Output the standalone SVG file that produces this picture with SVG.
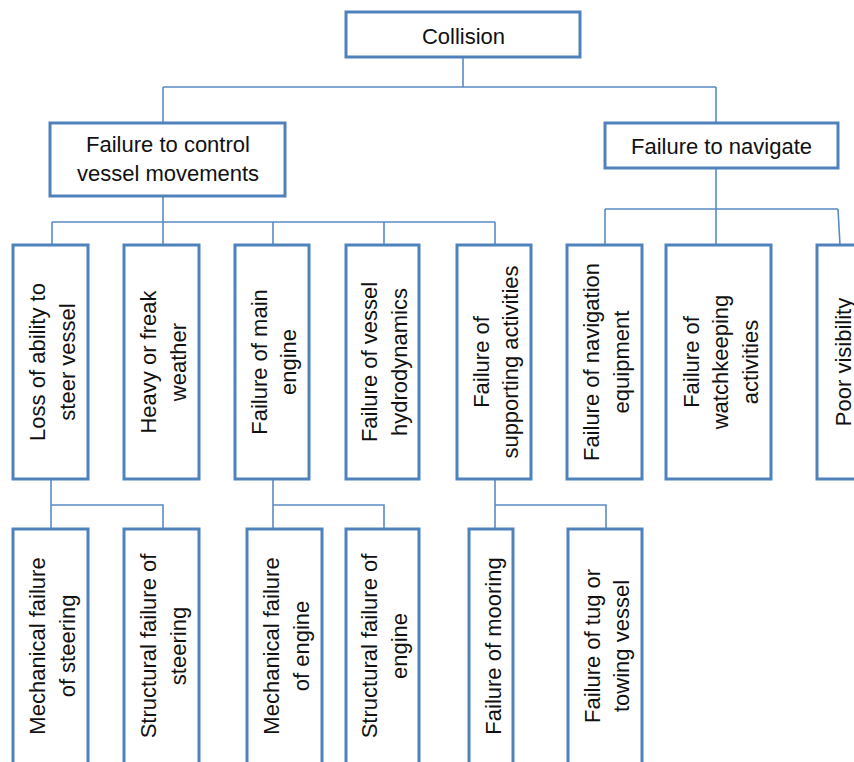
<svg xmlns="http://www.w3.org/2000/svg" width="854" height="762" viewBox="0 0 854 762">
  <style>
    .box { fill: #ffffff; stroke: #4f81bd; stroke-width: 3; }
    .link { fill: none; stroke: #5a8ac6; stroke-width: 1.6; }
    .lbl { font-family: "Liberation Sans", Arial, sans-serif; font-size: 22px; fill: #111111; text-anchor: middle; }
  </style>
  <rect width="854" height="762" fill="#ffffff"/>

  <!-- connectors -->
  <g id="connectors" class="link">
    <path d="M463 57 V87 M163 87 H716 M163 87 V123 M716 87 V123"/>
    <path d="M163 196 V222 M52 222 H495 M52 222 V245 M163 222 V245 M273 222 V245 M384 222 V245 M495 222 V245"/>
    <path d="M716 168 V209 M605 209 H838 M605 209 V245 M716 209 V245 M838 209 L840 245"/>
    <path d="M51 479 V529 M51 505 H163 V529"/>
    <path d="M273 479 V529 M273 505 H384 V529"/>
    <path d="M495 479 V529 M495 505 H606 V529"/>
  </g>

  <!-- top level -->
  <g id="collision">
    <rect class="box" x="346" y="12" width="234" height="45"/>
    <text class="lbl" x="463.5" y="43.5">Collision</text>
  </g>
  <g id="failure-control">
    <rect class="box" x="50" y="123" width="235" height="73"/>
    <text class="lbl"><tspan x="168" y="152">Failure to control</tspan><tspan x="168" y="181">vessel movements</tspan></text>
  </g>
  <g id="failure-navigate">
    <rect class="box" x="605" y="123" width="233" height="45"/>
    <text class="lbl" x="721.5" y="154">Failure to navigate</text>
  </g>

  <!-- second level (vertical labels) -->
  <g id="loss-steer">
    <rect class="box" x="13" y="245" width="75" height="234"/>
    <text class="lbl" transform="translate(60 362) rotate(-90)"><tspan x="0" y="-14.75">Loss of ability to</tspan><tspan x="0" y="14.75">steer vessel</tspan></text>
  </g>
  <g id="heavy-weather">
    <rect class="box" x="124" y="245" width="75" height="234"/>
    <text class="lbl" transform="translate(171 362) rotate(-90)"><tspan x="0" y="-14.75">Heavy or freak</tspan><tspan x="0" y="14.75">weather</tspan></text>
  </g>
  <g id="main-engine">
    <rect class="box" x="235" y="245" width="74" height="234"/>
    <text class="lbl" transform="translate(281.5 362) rotate(-90)"><tspan x="0" y="-14.75">Failure of main</tspan><tspan x="0" y="14.75">engine</tspan></text>
  </g>
  <g id="hydrodynamics">
    <rect class="box" x="346" y="245" width="73" height="234"/>
    <text class="lbl" transform="translate(392 362) rotate(-90)"><tspan x="0" y="-14.75">Failure of vessel</tspan><tspan x="0" y="14.75">hydrodynamics</tspan></text>
  </g>
  <g id="supporting">
    <rect class="box" x="457" y="245" width="74" height="234"/>
    <text class="lbl" transform="translate(503.5 362) rotate(-90)"><tspan x="0" y="-14.75">Failure of</tspan><tspan x="0" y="14.75">supporting activities</tspan></text>
  </g>
  <g id="nav-equipment">
    <rect class="box" x="567" y="245" width="75" height="234"/>
    <text class="lbl" transform="translate(614 362) rotate(-90)"><tspan x="0" y="-14.75">Failure of navigation</tspan><tspan x="0" y="14.75">equipment</tspan></text>
  </g>
  <g id="watchkeeping">
    <rect class="box" x="666" y="245" width="105" height="234"/>
    <text class="lbl" transform="translate(728 362) rotate(-90)"><tspan x="0" y="-29.5">Failure of</tspan><tspan x="0" y="0">watchkeeping</tspan><tspan x="0" y="29.5">activities</tspan></text>
  </g>
  <g id="poor-visibility">
    <rect class="box" x="817" y="245" width="48" height="234"/>
    <text class="lbl" transform="translate(850.5 362) rotate(-90)" x="0" y="0">Poor visibility</text>
  </g>

  <!-- third level -->
  <g id="mech-steering">
    <rect class="box" x="13" y="529" width="75" height="236"/>
    <text class="lbl" transform="translate(60 646) rotate(-90)"><tspan x="0" y="-14.75">Mechanical failure</tspan><tspan x="0" y="14.75">of steering</tspan></text>
  </g>
  <g id="struct-steering">
    <rect class="box" x="124" y="529" width="75" height="236"/>
    <text class="lbl" transform="translate(171 646) rotate(-90)"><tspan x="0" y="-14.75">Structural failure of</tspan><tspan x="0" y="14.75">steering</tspan></text>
  </g>
  <g id="mech-engine">
    <rect class="box" x="247" y="529" width="75" height="236"/>
    <text class="lbl" transform="translate(294 646) rotate(-90)"><tspan x="0" y="-14.75">Mechanical failure</tspan><tspan x="0" y="14.75">of engine</tspan></text>
  </g>
  <g id="struct-engine">
    <rect class="box" x="346" y="529" width="73" height="236"/>
    <text class="lbl" transform="translate(392 646) rotate(-90)"><tspan x="0" y="-14.75">Structural failure of</tspan><tspan x="0" y="14.75">engine</tspan></text>
  </g>
  <g id="mooring">
    <rect class="box" x="469" y="529" width="44" height="236"/>
    <text class="lbl" transform="translate(500.5 646) rotate(-90)" x="0" y="0">Failure of mooring</text>
  </g>
  <g id="tug">
    <rect class="box" x="568" y="529" width="74" height="236"/>
    <text class="lbl" transform="translate(614.5 646) rotate(-90)"><tspan x="0" y="-14.75">Failure of tug or</tspan><tspan x="0" y="14.75">towing vessel</tspan></text>
  </g>
</svg>
